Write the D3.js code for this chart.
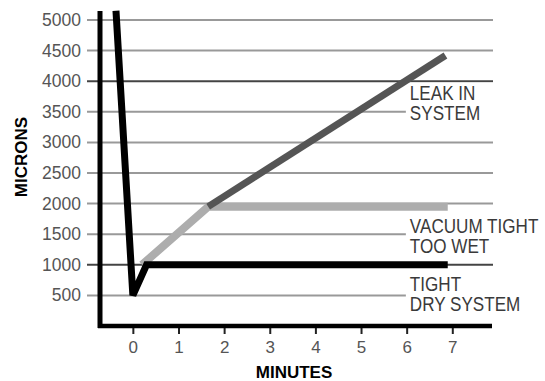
<!DOCTYPE html>
<html>
<head>
<meta charset="utf-8">
<script src="https://cdn.jsdelivr.net/npm/d3@7"></script>
<style>
  body { margin: 0; background: #fff; }
  svg { display: block; }
</style>
</head>
<body>
<div id="chart"></div>
<script>
const width = 545;
const height = 381;

// data
const minuteTicks = [0, 1, 2, 3, 4, 5, 6, 7];
const micronTicks = [500, 1000, 1500, 2000, 2500, 3000, 3500, 4000, 4500, 5000];
const darkGrid = [1000, 4000];

// pump-down then tight dry system
const tightDry = [[-0.37, 5150], [0, 500], [0.3, 1000], [6.9, 1000]];
// vacuum tight but too wet
const tooWet = [[0.2, 1000], [1.65, 1950], [6.9, 1950]];
// leak in system
const leak = [[1.65, 1950], [6.85, 4420]];

const labels = [
  { lines: ["LEAK IN", "SYSTEM"], x: 6.07, y: 3700 },
  { lines: ["VACUUM TIGHT", "TOO WET"], x: 6.07, y: 1520 },
  { lines: ["TIGHT", "DRY SYSTEM"], x: 6.07, y: 580 }
];

const svg = d3.select("#chart")
  .append("svg")
  .attr("width", width)
  .attr("height", height);

const x = d3.scaleLinear()
  .domain([-0.72, 7.87])
  .range([100, 492]);

const y = d3.scaleLinear()
  .domain([0, 5000])
  .range([326, 20]);

// gridlines
svg.append("g")
  .selectAll("line")
  .data(micronTicks)
  .enter()
  .append("line")
  .attr("x1", 87)
  .attr("x2", 493)
  .attr("y1", d => y(d))
  .attr("y2", d => y(d))
  .attr("stroke", d => darkGrid.includes(d) ? "#444" : "#999")
  .attr("stroke-width", 2);

// white boxes behind the line labels (condensed type)
const lab = svg.append("g");
labels.forEach(l => {
  const top = y(l.y) - 17;
  lab.append("rect")
    .attr("x", x(l.x) - 4)
    .attr("y", top)
    .attr("width", width - x(l.x) + 4)
    .attr("height", 20 * l.lines.length + 2)
    .attr("fill", "#fff");
  l.lines.forEach((t, i) => {
    lab.append("text")
      .attr("transform", `translate(${x(l.x)},${y(l.y) + i * 20}) scale(0.855,1)`)
      .style("font-family", "'Liberation Sans', Arial, sans-serif")
      .style("font-size", "20px")
      .style("fill", "#3a3a3a")
      .text(t);
  });
});

const line = d3.line()
  .x(d => x(d[0]))
  .y(d => y(d[1]));

svg.append("path")
  .datum(tooWet)
  .attr("d", line)
  .attr("fill", "none")
  .attr("stroke", "#adadad")
  .attr("stroke-width", 8);

svg.append("path")
  .datum(leak)
  .attr("d", line)
  .attr("fill", "none")
  .attr("stroke", "#555555")
  .attr("stroke-width", 7);

svg.append("path")
  .datum(tightDry)
  .attr("d", line)
  .attr("fill", "none")
  .attr("stroke", "#000")
  .attr("stroke-width", 7)
  .attr("stroke-linejoin", "miter")
  .attr("stroke-miterlimit", 3);

// y axis
svg.append("line")
  .attr("x1", 100).attr("x2", 100)
  .attr("y1", 11).attr("y2", 328)
  .attr("stroke", "#000")
  .attr("stroke-width", 5);

svg.append("g")
  .selectAll("text")
  .data(micronTicks)
  .enter()
  .append("text")
  .attr("x", 81)
  .attr("y", d => y(d) + 6)
  .attr("text-anchor", "end")
  .style("font-family", "'Liberation Sans', Arial, sans-serif")
  .style("font-size", "17.5px")
  .style("fill", "#555")
  .text(d => d);

// x axis
const xAxis = svg.append("g")
  .attr("transform", "translate(0,326)")
  .call(d3.axisBottom(x).tickValues(minuteTicks).tickSize(8).tickPadding(7).tickFormat(d3.format("d")));

xAxis.select(".domain").remove();
xAxis.selectAll(".tick line").attr("stroke", "#222").attr("stroke-width", 2);
xAxis.selectAll(".tick text")
  .style("font-family", "'Liberation Sans', Arial, sans-serif")
  .style("font-size", "17px")
  .style("fill", "#555");

svg.append("line")
  .attr("x1", 98).attr("x2", 492)
  .attr("y1", 326).attr("y2", 326)
  .attr("stroke", "#000")
  .attr("stroke-width", 4.5);

// axis titles
svg.append("text")
  .attr("transform", "translate(27,157) rotate(-90)")
  .attr("text-anchor", "middle")
  .style("font-family", "'Liberation Sans', Arial, sans-serif")
  .style("font-weight", "bold")
  .style("font-size", "17px")
  .text("MICRONS");

svg.append("text")
  .attr("x", 294)
  .attr("y", 378)
  .attr("text-anchor", "middle")
  .style("font-family", "'Liberation Sans', Arial, sans-serif")
  .style("font-weight", "bold")
  .style("font-size", "17px")
  .text("MINUTES");
</script>
</body>
</html>
